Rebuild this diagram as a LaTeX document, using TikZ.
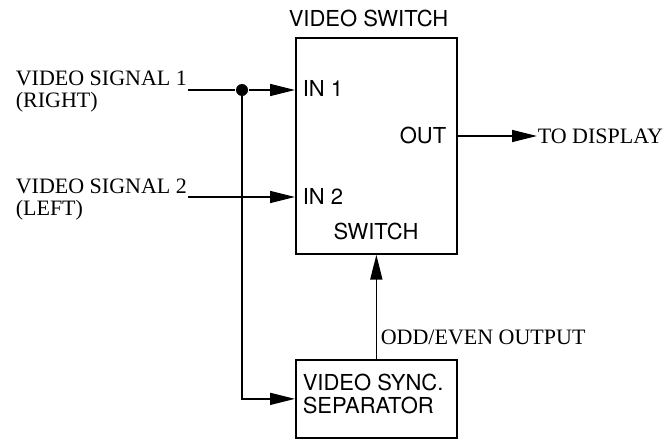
\documentclass[tikz,border=0pt]{standalone}
\usepackage{fontspec}
\setmainfont{Liberation Serif}
\newfontfamily\hv{TeX Gyre Heros}
\usetikzlibrary{arrows.meta,calc}
\begin{document}
\begin{tikzpicture}[x=1pt,y=-1pt,
  line width=1.6pt,
  box/.style={draw,line width=1.7pt,anchor=north west,inner sep=0pt},
  sans/.style={font=\hv\fontsize{22}{23}\selectfont,inner sep=0pt},
  serif/.style={font=\fontsize{22}{22}\selectfont,inner sep=0pt,align=left},
  arr/.style={-{Triangle[length=25pt,width=12pt]}},
  jdot/.style={circle,fill,inner sep=0pt,minimum size=12pt}]
\useasboundingbox (0,0) rectangle (671,439);
% boxes
\node[box,minimum width=161pt,minimum height=216pt] (sw) at (295,37) {};
\node[box,minimum width=161pt,minimum height=78pt] (sync) at (295,359) {};
% labels
\node[sans,anchor=base west] (swt) at (288,27) {VIDEO SWITCH};
\node[sans,anchor=base west] (in1) at (302,96) {IN 1};
\node[sans,anchor=base west] (in2) at (302,204) {IN 2};
\node[sans,anchor=base east] (out) at (447,143) {OUT};
\node[sans,anchor=base] (swl) at (376,239) {SWITCH};
\node[sans,anchor=base west] (vs1) at (302,390) {VIDEO SYNC.};
\node[sans,anchor=base west] (vs2) at (302,413) {SEPARATOR};
\node[serif,anchor=base west] (sig1a) at (15,85) {VIDEO SIGNAL 1};
\node[serif,anchor=base west] (sig1b) at (15,107) {(RIGHT)};
\node[serif,anchor=base west] (sig2a) at (15,193) {VIDEO SIGNAL 2};
\node[serif,anchor=base west] (sig2b) at (15,215) {(LEFT)};
\node[serif,anchor=west] (disp) at (537,136) {TO DISPLAY};
\node[serif,anchor=base west] (odd) at (380,344) {ODD/EVEN OUTPUT};
% connectors
\coordinate (s1) at (188,90);
\coordinate (s2) at (188,197);
\node[jdot] (dot) at (242,90) {};
\draw (s1) -- (dot);
\draw[arr] (dot) -- (dot -| sw.west);
\draw[arr] (s2) -- (s2 -| sw.west);
\draw[arr] (dot.center) |- (sync.west);
\draw[arr] (sync.north) -- (sw.south);
\draw[arr] (disp.west -| sw.east) -- (disp.west);
\end{tikzpicture}
\end{document}
